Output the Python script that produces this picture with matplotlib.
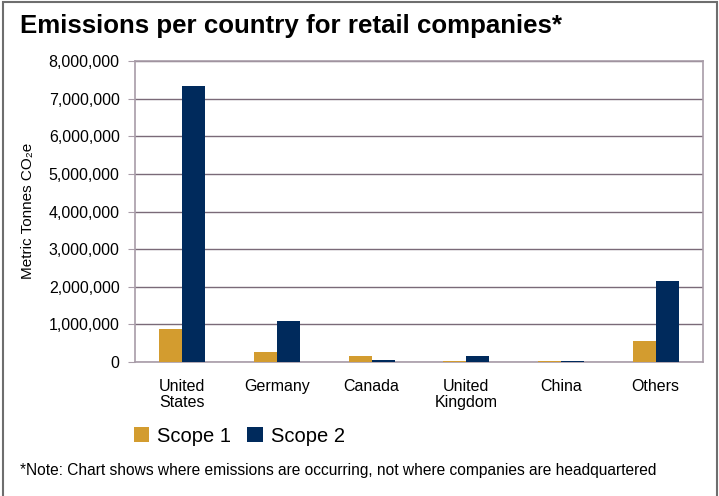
import numpy as np
import matplotlib.pyplot as plt
from matplotlib.patches import Rectangle
from matplotlib.ticker import FuncFormatter

countries = ["United\nStates", "Germany", "Canada", "United\nKingdom", "China", "Others"]
scope1 = [880000, 270000, 160000, 20000, 20000, 570000]
scope2 = [7330000, 1090000, 50000, 160000, 20000, 2150000]

gold = "#D39C2F"
navy = "#002A5C"

plt.rcParams["font.family"] = ["Liberation Sans", "DejaVu Sans"]

fig = plt.figure(figsize=(7.19, 4.96), dpi=100)
ax = fig.add_axes([135 / 719, 1 - 362 / 496, 568 / 719, 301 / 496])

x = np.arange(len(countries))
w = 0.243
ax.bar(x - w / 2, scope1, w, color=gold, label="Scope 1", zorder=3)
ax.bar(x + w / 2, scope2, w, color=navy, label="Scope 2", zorder=3)

ax.set_xlim(-0.5, len(countries) - 0.5)
ax.set_ylim(0, 8000000)
ax.set_yticks(np.arange(0, 8000001, 1000000))
ax.yaxis.set_major_formatter(FuncFormatter(lambda v, p: f"{int(v):,}"))
ax.set_xticks(x)
ax.set_xticklabels(countries, fontsize=11.5, linespacing=1.1)
ax.tick_params(axis="y", labelsize=11.5, length=5, color="#a89ca8", pad=6)
ax.tick_params(axis="x", length=0, pad=12)
ax.yaxis.grid(True, color="#7a6a78", linewidth=1)
ax.set_axisbelow(True)
for s in ax.spines.values():
    s.set_color("#a89ca8")
    s.set_linewidth(1.2)

fig.text(28 / 719, 1 - 211 / 496, "Metric Tonnes CO\u2082e", fontsize=11,
         rotation=90, ha="center", va="center")

fig.text(20 / 719, 1 - 26 / 496, "Emissions per country for retail companies*",
         fontsize=18.6, fontweight="bold", va="center")

handles, labels = ax.get_legend_handles_labels()
fig.legend(handles, labels, loc="center left", bbox_to_anchor=(116 / 719, 1 - 436 / 496),
           ncol=2, frameon=False, fontsize=14.5, handlelength=0.75, handleheight=0.75,
           handletextpad=0.4, columnspacing=0.8)

fig.text(20 / 719, 1 - 470 / 496,
         "*Note: Chart shows where emissions are occurring, not where companies are headquartered",
         fontsize=11.2, va="center")

# frame around the whole graphic
fig.patches.append(Rectangle((3 / 719, -0.1), 714 / 719, 1.1 - 2 / 496, transform=fig.transFigure,
                             fill=False, edgecolor="#6e6e6e", linewidth=1.5, clip_on=False))

fig.savefig("out.png", dpi=100)
